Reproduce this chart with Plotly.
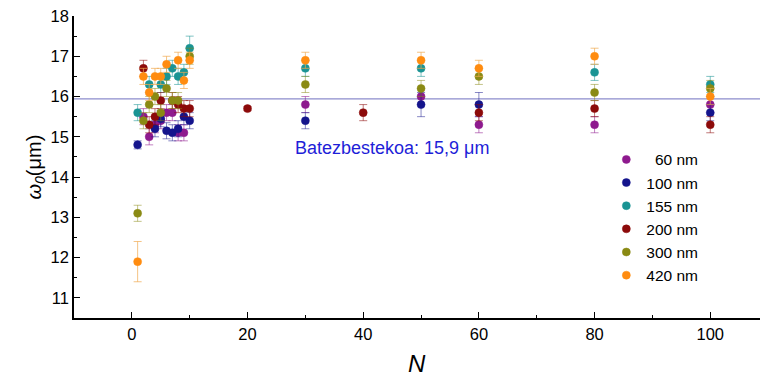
import plotly.graph_objects as go

# ---- data ----
labels = ["\u00a0\u00a060 nm", "100 nm", "155 nm", "200 nm", "300 nm", "420 nm"]
colors = ["#8E1A8E", "#14148C", "#1A9494", "#8C0A0A", "#8A8A14", "#FF8C10"]
bar_colors = ["rgba(142,26,142,0.55)", "rgba(20,20,140,0.5)", "rgba(26,148,148,0.55)",
              "rgba(140,10,10,0.55)", "rgba(138,138,20,0.5)", "rgba(240,170,80,0.7)"]

n_60 = [2, 3, 4, 5, 6, 7, 8, 9, 30, 50, 60, 80, 100]
w_60 = [15.5, 15.0, 15.3, 15.4, 15.6, 15.6, 15.1, 15.1, 15.8, 16.0, 15.3, 15.3, 15.8]
e_60 = [0.2, 0.2, 0.2, 0.2, 0.2, 0.2, 0.2, 0.2, 0.2, 0.2, 0.2, 0.2, 0.2]

n_100 = [1, 4, 5, 6, 7, 8, 9, 10, 30, 50, 60, 100]
w_100 = [14.8, 15.2, 15.45, 15.15, 15.1, 15.2, 15.5, 15.4, 15.4, 15.8, 15.8, 15.6]
e_100 = [0.1, 0.2, 0.2, 0.2, 0.2, 0.2, 0.2, 0.2, 0.2, 0.3, 0.3, 0.2]

n_155 = [1, 3, 5, 6, 7, 8, 9, 10, 30, 50, 80, 100]
w_155 = [15.6, 16.3, 16.3, 16.5, 16.7, 16.5, 16.6, 17.2, 16.7, 16.7, 16.6, 16.3]
e_155 = [0.2, 0.2, 0.2, 0.2, 0.2, 0.2, 0.2, 0.3, 0.2, 0.2, 0.2, 0.2]

n_200 = [2, 3, 4, 5, 7, 8, 9, 10, 20, 40, 60, 80, 100]
w_200 = [16.7, 15.3, 15.5, 15.9, 15.9, 15.8, 15.7, 15.7, 15.7, 15.6, 15.6, 15.7, 15.3]
e_200 = [0.2, 0.2, 0.2, 0.2, 0.2, 0.2, 0.2, 0.2, 0.05, 0.2, 0.2, 0.2, 0.2]

n_300 = [1, 2, 3, 4, 5, 6, 7, 8, 10, 30, 50, 60, 80, 100]
w_300 = [13.1, 15.4, 15.8, 16.0, 15.6, 16.2, 15.9, 15.9, 17.0, 16.3, 16.2, 16.5, 16.1, 16.2]
e_300 = [0.2, 0.2, 0.2, 0.2, 0.2, 0.2, 0.2, 0.2, 0.2, 0.2, 0.2, 0.2, 0.2, 0.2]

n_420 = [1, 2, 3, 4, 5, 6, 8, 9, 10, 30, 50, 60, 80, 100]
w_420 = [11.9, 16.5, 16.1, 16.5, 16.5, 16.8, 16.9, 16.4, 16.9, 16.9, 16.9, 16.7, 17.0, 16.0]
e_420 = [0.5, 0.2, 0.2, 0.2, 0.2, 0.2, 0.2, 0.2, 0.2, 0.2, 0.2, 0.2, 0.2, 0.2]

mean_w = 15.94
mean_text = "Batezbestekoa: 15,9 μm"

x_ticks = [0, 20, 40, 60, 80, 100]
y_ticks = [11, 12, 13, 14, 15, 16, 17, 18]

series = [(n_60, w_60, e_60), (n_100, w_100, e_100), (n_155, w_155, e_155),
          (n_200, w_200, e_200), (n_300, w_300, e_300), (n_420, w_420, e_420)]

fig = go.Figure()

fig.add_shape(type="line", xref="paper", x0=0, x1=1, yref="y", y0=mean_w, y1=mean_w,
              line=dict(color="#8C8CCC", width=1.2), layer="below")

for (n, w, e), lab, c, bc in zip(series, labels, colors, bar_colors):
    fig.add_trace(go.Scatter(
        x=n, y=w, mode="markers", name=lab,
        marker=dict(size=8, color=c, line=dict(color=c, width=0.5)),
        error_y=dict(type="data", array=e, visible=True, color=bc, thickness=1, width=4),
    ))

fig.add_annotation(x=44.9, y=14.73, xref="x", yref="y", text=mean_text, showarrow=False,
                   font=dict(family="Liberation Sans, Arial", size=18, color="#1E1ED8"))

fig.add_annotation(x=0.5, y=0, xref="paper", yref="paper", yshift=-45, yanchor="middle",
                   text="<i>N</i>", showarrow=False,
                   font=dict(family="Liberation Sans, Arial", size=24, color="black"))
fig.add_annotation(x=0, y=0.5, xref="paper", yref="paper", xshift=-54, textangle=-90,
                   text="<i>ω</i><sub><i>0</i></sub>(μm)", showarrow=False,
                   font=dict(family="Liberation Sans, Arial", size=20, color="black"))

axis_font = dict(family="Liberation Sans, Arial", size=16.5, color="black")
fig.update_xaxes(range=[-10, 108.6], showgrid=False, zeroline=False, showline=True,
                 linecolor="black", linewidth=1.5, ticks="inside", ticklen=6, tickwidth=1,
                 tickcolor="black", tickvals=x_ticks, tickfont=axis_font,
                 minor=dict(ticks="inside", ticklen=3, tickwidth=1, tickcolor="black",
                            tickvals=[10, 30, 50, 70, 90]))
fig.update_yaxes(range=[10.5, 18], showgrid=False, zeroline=False, showline=True,
                 linecolor="black", linewidth=1.5, ticks="inside", ticklen=6, tickwidth=1,
                 tickcolor="black", tickvals=y_ticks, tickfont=axis_font,
                 minor=dict(ticks="inside", ticklen=3, tickwidth=1, tickcolor="black",
                            tickvals=[10.5, 11.5, 12.5, 13.5, 14.5, 15.5, 16.5, 17.5]))

fig.update_layout(
    width=760, height=377,
    margin=dict(l=74, r=0, t=16, b=59),
    paper_bgcolor="white", plot_bgcolor="white",
    showlegend=True,
    legend=dict(x=0.776, y=0.58, xanchor="left", yanchor="top", bgcolor="rgba(0,0,0,0)",
                font=dict(family="Liberation Sans, Arial", size=15.5, color="black"),
                itemwidth=30, tracegroupgap=0),
)

fig.write_html("out.html")
